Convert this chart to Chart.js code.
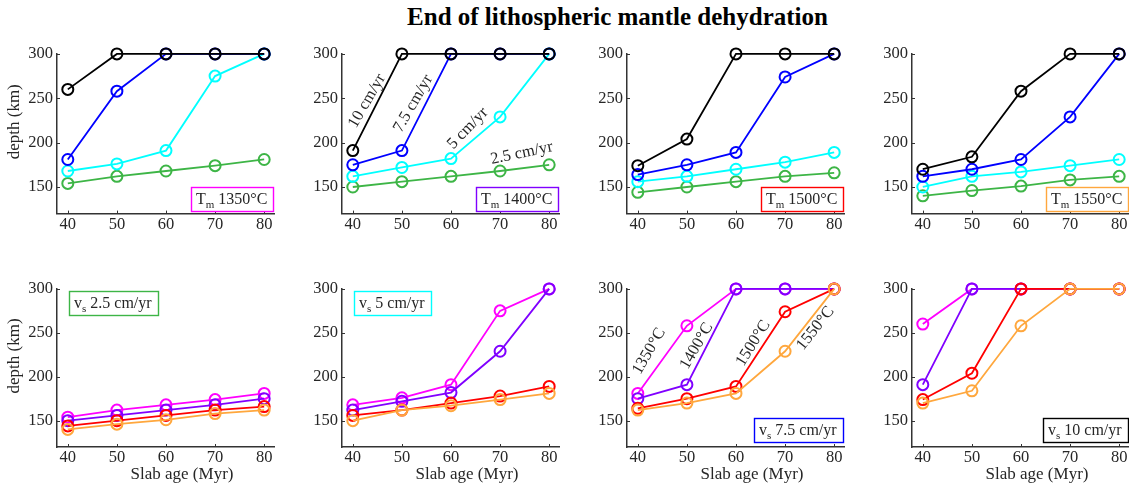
<!DOCTYPE html>
<html>
<head>
<meta charset="utf-8">
<script src="https://cdn.jsdelivr.net/npm/chart.js@4.4.1/dist/chart.umd.min.js"></script>
<style>
  html, body { margin: 0; padding: 0; background: #fff; overflow: hidden; }
  body { width: 1129px; height: 487px; position: relative; }
  #title {
    position: absolute; left: 617.5px; top: 3px; transform: translateX(-50%);
    font: bold 25px "Liberation Serif", "Times New Roman", serif; line-height: 28px;
    color: #000; white-space: nowrap;
  }
  .panel { position: absolute; }
</style>
</head>
<body>
<div id="title">End of lithospheric mantle dehydration</div>

<script>
// ─────────────────────────────────────────────────────────────
// DATOS
// ─────────────────────────────────────────────────────────────
const ages   = [40, 50, 60, 70, 80];            // slab age (Myr)
const yTicks = [150, 200, 250, 300];
const speeds = ['2.5', '5', '7.5', '10'];        // cm/yr
const temps  = ['1350', '1400', '1500', '1550']; // °C

// depth (km) per mantle temperature, one row per speed (2.5, 5, 7.5, 10 cm/yr)
const t1350 = [
  [154, 162, 168, 174, 181],
  [168, 176, 191, 275, 300],
  [181, 258, 300, 300, 300],
  [260, 300, 300, 300, 300]
];
const t1400 = [
  [150, 156, 162, 168, 175],
  [162, 172, 182, 229, 300],
  [175, 191, 300, 300, 300],
  [191, 300, 300, 300, 300]
];
const t1500 = [
  [144, 150, 156, 162, 166],
  [156, 162, 170, 178, 189],
  [164, 175, 189, 274, 300],
  [174, 204, 300, 300, 300]
];
const t1550 = [
  [140, 146, 151, 158, 162],
  [150, 162, 167, 174, 181],
  [162, 170, 181, 229, 300],
  [170, 184, 258, 300, 300]
];
const tables = [t1350, t1400, t1500, t1550];

const speedColors = ['#3db546', '#00ffff', '#0000ff', '#000000'];
const tempColors  = ['#ff00ff', '#8000ff', '#ff0000', '#ffa73d'];

// ─────────────────────────────────────────────────────────────
// ESTILO
// ─────────────────────────────────────────────────────────────
const SERIF = '"Liberation Serif", "Times New Roman", serif';
const INK   = '#262626';
const AXIS  = '#333';
const COL_W = 285;

function serie(values, color) {
  return {
    data: ages.map(function (a, i) { return { x: a, y: values[i] }; }),
    borderColor: color,
    backgroundColor: 'rgba(0,0,0,0)',
    pointBorderColor: color,
    pointBackgroundColor: 'rgba(0,0,0,0)',
    borderWidth: 1.8,
    pointRadius: 5.5,
    pointHoverRadius: 5.5,
    pointBorderWidth: 2,
    tension: 0,
    clip: false
  };
}

function drawBox(ctx, area, box) {
  const big = '16px ' + SERIF, small = '11px ' + SERIF;
  ctx.font = big;
  const w1 = ctx.measureText(box.main).width;
  ctx.font = small;
  const w2 = ctx.measureText(box.sub).width;
  ctx.font = big;
  const w3 = ctx.measureText(box.rest).width;
  const w = Math.round(w1 + w2 + w3 + 11), h = 24;
  let x, y;
  if (box.corner === 'br') { x = area.right - box.dx - w; y = area.bottom - box.dy - h; }
  else { x = area.left + box.dx; y = area.top + box.dy; }
  x = Math.round(x); y = Math.round(y);
  ctx.fillStyle = '#fff';
  ctx.fillRect(x, y, w, h);
  ctx.strokeStyle = box.color;
  ctx.lineWidth = 1.4;
  ctx.strokeRect(x + 0.5, y + 0.5, w, h);
  ctx.fillStyle = INK;
  ctx.textAlign = 'left';
  ctx.textBaseline = 'alphabetic';
  const base = y + 17;
  ctx.font = big;   ctx.fillText(box.main, x + 5, base);
  ctx.font = small; ctx.fillText(box.sub, x + 5 + w1, base + 4);
  ctx.font = big;   ctx.fillText(box.rest, x + 5 + w1 + w2, base);
}

// decoración del panel: marcas interiores, textos girados, caja y títulos de ejes
function decoPlugin(cfg) {
  return {
    id: 'deco',
    afterDatasetsDraw(chart) {
      const ctx = chart.ctx, area = chart.chartArea;
      const xs = chart.scales.x, ys = chart.scales.y;
      ctx.save();

      ctx.strokeStyle = AXIS;
      ctx.lineWidth = 1;
      ctx.beginPath();
      ages.forEach(function (v) {
        const px = Math.round(xs.getPixelForValue(v)) + 0.5;
        ctx.moveTo(px, area.bottom); ctx.lineTo(px, area.bottom - 3);
      });
      yTicks.forEach(function (v) {
        const py = Math.round(ys.getPixelForValue(v)) + 0.5;
        ctx.moveTo(area.left, py); ctx.lineTo(area.left + 3, py);
      });
      ctx.stroke();

      ctx.fillStyle = INK;
      (cfg.notes || []).forEach(function (n) {
        ctx.save();
        ctx.translate(xs.getPixelForValue(n.x), ys.getPixelForValue(n.y));
        ctx.rotate(n.angle * Math.PI / 180);
        ctx.font = '16.5px ' + SERIF;
        ctx.textAlign = 'center';
        ctx.textBaseline = 'middle';
        ctx.fillText(n.text, 0, 0);
        ctx.restore();
      });

      if (cfg.box) drawBox(ctx, area, cfg.box);

      ctx.fillStyle = INK;
      ctx.font = '17px ' + SERIF;
      ctx.textAlign = 'center';
      ctx.textBaseline = 'middle';
      if (cfg.ylabel) {
        ctx.save();
        ctx.translate(15, (area.top + area.bottom) / 2 - 12);
        ctx.rotate(-Math.PI / 2);
        ctx.fillText('depth (km)', 0, 0);
        ctx.restore();
      }
      if (cfg.xlabel) {
        ctx.fillText('Slab age (Myr)', area.left + 125, chart.height - 12);
      }
      ctx.restore();
    }
  };
}

function crearPanel(left, top, height, padTop, xAxisH, datasets, cfg) {
  const div = document.createElement('div');
  div.className = 'panel';
  div.style.left = left + 'px';
  div.style.top = top + 'px';
  const cv = document.createElement('canvas');
  cv.width = COL_W; cv.height = height;
  cv.style.width = COL_W + 'px'; cv.style.height = height + 'px';
  div.appendChild(cv);
  document.body.appendChild(div);

  const tickFont = { family: SERIF, size: 16.5 };
  new Chart(cv.getContext('2d'), {
    type: 'line',
    data: { datasets: datasets },
    options: {
      responsive: false,
      animation: false,
      events: [],
      layout: { padding: { top: padTop, right: 11, left: 0, bottom: 0 } },
      plugins: { legend: { display: false }, tooltip: { enabled: false } },
      scales: {
        x: {
          type: 'linear', min: 37.8, max: 82,
          afterBuildTicks: function (s) { s.ticks = ages.map(function (v) { return { value: v }; }); },
          afterFit: function (s) { s.height = xAxisH; },
          grid: { display: false, drawTicks: false },
          border: { display: true, color: AXIS, width: 1.5 },
          ticks: { font: tickFont, color: INK, padding: 1, autoSkip: false, maxRotation: 0 }
        },
        y: {
          type: 'linear', min: 120, max: 300,
          afterBuildTicks: function (s) { s.ticks = yTicks.map(function (v) { return { value: v }; }); },
          afterFit: function (s) { s.width = 57; },
          grid: { display: false, drawTicks: false },
          border: { display: true, color: AXIS, width: 1.5 },
          ticks: { font: tickFont, color: INK, padding: 4 }
        }
      }
    },
    plugins: [decoPlugin(cfg)]
  });
}

// ─────────────────────────────────────────────────────────────
// FILA SUPERIOR — una temperatura por panel
// ─────────────────────────────────────────────────────────────
temps.forEach(function (t, c) {
  const ds = [3, 2, 1, 0].map(function (s) { return serie(tables[c][s], speedColors[s]); });
  const cfg = {
    ylabel: c === 0,
    box: { corner: 'br', dx: 1, dy: 3, color: tempColors[c], main: 'T', sub: 'm', rest: ' ' + t + '°C' }
  };
  if (c === 1) {
    cfg.notes = [
      { text: speeds[3] + ' cm/yr', x: 42.9, y: 247, angle: -60 },
      { text: speeds[2] + ' cm/yr', x: 52.3, y: 244, angle: -60 },
      { text: speeds[1] + ' cm/yr', x: 63.4, y: 216, angle: -46 },
      { text: speeds[0] + ' cm/yr', x: 74.4, y: 188, angle: -12 }
    ];
  }
  crearPanel(c * COL_W, 40, 200, 12.3, 26.4, ds, cfg);
});

// ─────────────────────────────────────────────────────────────
// FILA INFERIOR — una velocidad por panel
// ─────────────────────────────────────────────────────────────
speeds.forEach(function (v, c) {
  const ds = [3, 2, 1, 0].map(function (t) { return serie(tables[t][c], tempColors[t]); });
  const cfg = {
    ylabel: c === 0,
    xlabel: true,
    box: c < 2
      ? { corner: 'tl', dx: 12, dy: 2.5, color: speedColors[c], main: 'v', sub: 's', rest: ' ' + v + ' cm/yr' }
      : { corner: 'br', dx: 1.5, dy: 5, color: speedColors[c], main: 'v', sub: 's', rest: ' ' + v + ' cm/yr' }
  };
  if (c === 2) {
    cfg.notes = [
      { text: temps[0] + '°C', x: 42.3, y: 229, angle: -60 },
      { text: temps[1] + '°C', x: 52.0, y: 235, angle: -60 },
      { text: temps[2] + '°C', x: 63.5, y: 238, angle: -58 },
      { text: temps[3] + '°C', x: 76.2, y: 255, angle: -52 }
    ];
  }
  crearPanel(c * COL_W, 275, 212, 10.3, 40, ds, cfg);
});
</script>
</body>
</html>
